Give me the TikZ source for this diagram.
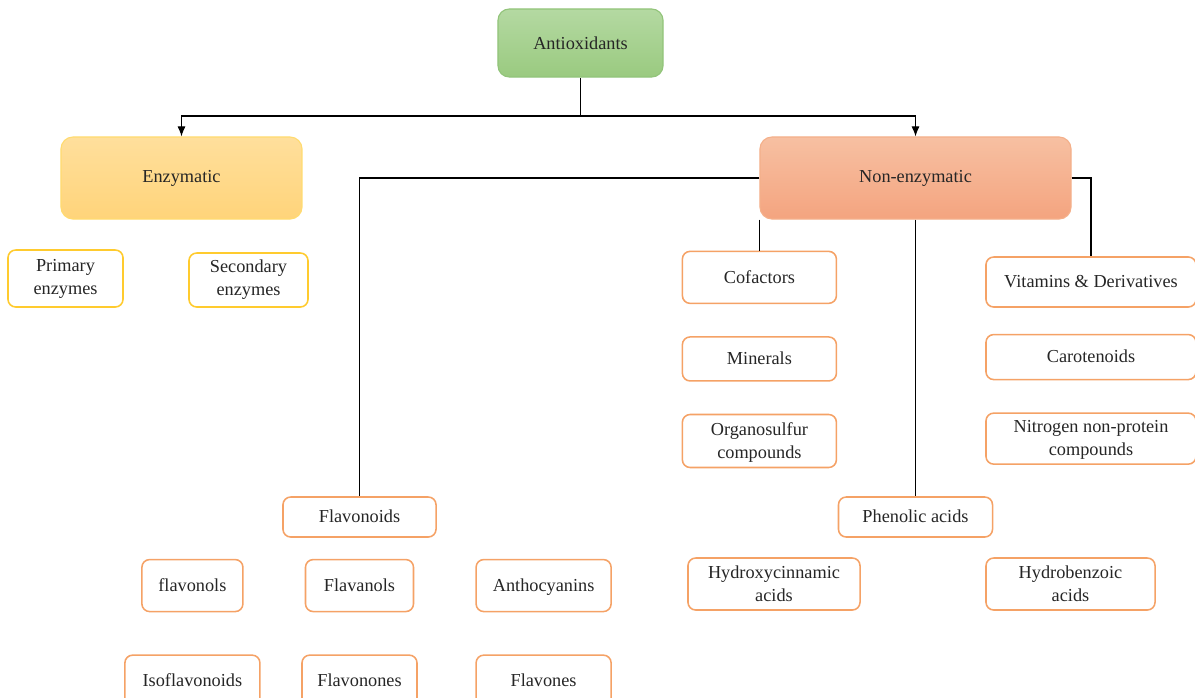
\documentclass[tikz,border=0pt]{standalone}
\usepackage{fontspec}
\setmainfont{Liberation Serif}
\usepackage{tikz}
\usetikzlibrary{positioning,arrows.meta}
\definecolor{textgray}{HTML}{262626}
\definecolor{roottop}{HTML}{B4D9A2}
\definecolor{rootbot}{HTML}{9ACA80}
\definecolor{rootline}{HTML}{92C47A}
\definecolor{enzymtop}{HTML}{FFDF9C}
\definecolor{enzymbot}{HTML}{FFD47A}
\definecolor{enzymline}{HTML}{FFDB70}
\definecolor{nonenztop}{HTML}{F7C0A2}
\definecolor{nonenzbot}{HTML}{F4A47F}
\definecolor{nonenzline}{HTML}{F4B08A}
\definecolor{itemline}{HTML}{F5A266}
\definecolor{enzitemline}{HTML}{FFCB2E}
\tikzstyle{RootNode}=[rectangle, draw=rootline, line width=0.8pt, top color=roottop, bottom color=rootbot, rounded corners=8pt, minimum width=4.125cm, minimum height=1.7cm]
\tikzstyle{EnzymNode}=[rectangle, draw=enzymline, line width=0.8pt, top color=enzymtop, bottom color=enzymbot, rounded corners=8.5pt, minimum width=6.025cm, minimum height=2.05cm]
\tikzstyle{NonEnzymNode}=[rectangle, draw=nonenzline, line width=0.8pt, top color=nonenztop, bottom color=nonenzbot, rounded corners=8.5pt, minimum width=7.775cm, minimum height=2.05cm]
\tikzstyle{ItemNode}=[rectangle, draw=itemline, line width=1.1pt, fill=white, rounded corners=5.5pt, align=center, inner sep=2pt, text depth=0.2ex]
\tikzstyle{EnzymItemNode}=[rectangle, draw=enzitemline, line width=1.1pt, fill=white, rounded corners=5.5pt, align=center, inner sep=2pt]
\tikzstyle{ConnLine}=[draw=black, line width=0.8pt]
\tikzstyle{ConnArrow}=[ConnLine, -{Latex[length=2.5mm, width=2mm]}]

\begin{document}
\begin{tikzpicture}[x=0.025cm, y=-0.025cm, node distance=0.8cm, font=\fontsize{13}{16.3}\selectfont, text=textgray]
    \useasboundingbox (0,0) rectangle (1195,697);
    \clip (0,0) rectangle (1195,697);

    \node (antiox) [RootNode] at (580.5,43) {Antioxidants};
    \node (enzym) [EnzymNode] at (181.5,178) {Enzymatic};
    \node (nonenz) [NonEnzymNode] at (915.5,178) {Non-enzymatic};
    \coordinate (split) at (580.5,116);

    \node (primary) [EnzymItemNode, minimum width=2.875cm, minimum height=1.425cm] at (65.5,278.5) {Primary\\enzymes};
    \node (secondary) [EnzymItemNode, minimum width=2.975cm, minimum height=1.35cm] at (248.5,280) {Secondary\\enzymes};

    \node (cofactors) [ItemNode, minimum width=3.85cm, minimum height=1.3cm, below=0.775cm of nonenz.south west] {Cofactors};
    \node (minerals) [ItemNode, minimum width=3.85cm, minimum height=1.1cm, below=of cofactors] {Minerals};
    \node (organosulfur) [ItemNode, minimum width=3.85cm, minimum height=1.325cm, below=of minerals] {Organosulfur\\compounds};

    \node (vitamins) [ItemNode, minimum width=5.25cm, minimum height=1.25cm] at (1091,282) {Vitamins \& Derivatives};
    \node (carotenoids) [ItemNode, minimum width=5.25cm, minimum height=1.125cm, below=0.65cm of vitamins] {Carotenoids};
    \node (nitrogen) [ItemNode, minimum width=5.25cm, minimum height=1.275cm, below=of carotenoids] {Nitrogen non-protein\\compounds};

    \node (flavonoids) [ItemNode, minimum width=3.825cm, minimum height=1cm] at (359.5,517) {Flavonoids};
    \node (flavanols) [ItemNode, minimum width=2.7cm, minimum height=1.3cm, below=0.525cm of flavonoids] {Flavanols};
    \node (flavonols) [ItemNode, minimum width=2.525cm, minimum height=1.3cm, left=1.525cm of flavanols] {flavonols};
    \node (anthocyanins) [ItemNode, minimum width=3.375cm, minimum height=1.3cm, right=1.525cm of flavanols] {Anthocyanins};
    \node (isoflavonoids) [ItemNode, minimum width=3.375cm, minimum height=1.3cm, below=1.05cm of flavonols] {Isoflavonoids};
    \node (flavonones) [ItemNode, minimum width=2.875cm, minimum height=1.3cm, below=1.05cm of flavanols] {Flavonones};
    \node (flavones) [ItemNode, minimum width=3.375cm, minimum height=1.3cm, below=1.05cm of anthocyanins] {Flavones};

    \node (phenolic) [ItemNode, minimum width=3.85cm, minimum height=1cm] at (915.5,517) {Phenolic acids};
    \node (hydroxycinnamic) [ItemNode, minimum width=4.3cm, minimum height=1.3cm] at (774,584) {Hydroxycinnamic\\acids};
    \node (hydrobenzoic) [ItemNode, minimum width=4.225cm, minimum height=1.3cm] at (1070.5,584) {Hydrobenzoic\\acids};

    \draw [ConnLine] (antiox) -- (split);
    \draw [ConnArrow] (split) -| (enzym);
    \draw [ConnArrow] (split) -| (nonenz);
    \draw [ConnLine] (nonenz) -| (flavonoids);
    \draw [ConnLine] (nonenz.south west) -- (cofactors);
    \draw [ConnLine] (nonenz) -- (phenolic);
    \draw [ConnLine] (nonenz) -| (vitamins);
\end{tikzpicture}
\end{document}
